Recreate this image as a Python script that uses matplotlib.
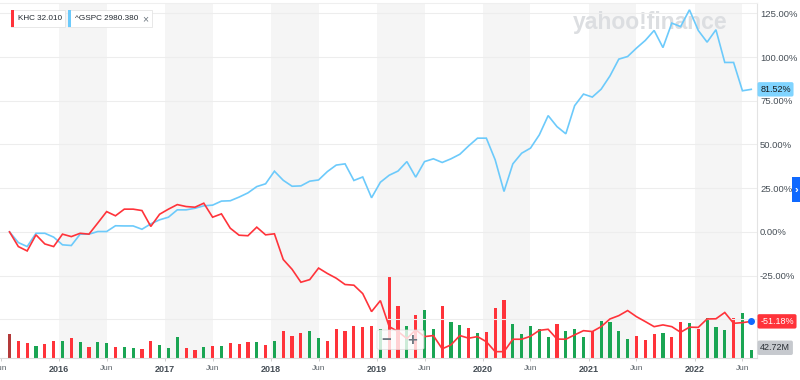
import numpy as np
import matplotlib
matplotlib.use("Agg")
import matplotlib.pyplot as plt
from matplotlib.patches import Rectangle, FancyBboxPatch
from matplotlib import transforms

plt.rcParams['font.family'] = ['Liberation Sans', 'DejaVu Sans']

# ---------------- data (monthly, Jul 2015 .. Jul 2022) ----------------
khc_pct = [0, -8.4, -10.9, -1.7, -6.9, -8.4, -1.3, -2.7, -0.8, -1.3,
           5.1, 11.6, 9.2, 13.0, 13.0, 12.2, 3.1, 10.1, 13.0, 15.6,
           14.5, 14.1, 16.4, 8.4, 10.3, 2.1, -1.9, -2.2, 2.7, -1.7,
           -1.1, -15.8, -21.4, -28.8, -27.3, -20.7, -23.8, -26.5, -30.1, -30.5,
           -35.3, -45.6, -39.3, -54.2, -57.0, -61.0, -56.0, -59.9, -59.3, -66.9,
           -64.6, -59.3, -60.8, -59.9, -62.8, -68.5, -68.5, -61.4, -61.4, -59.7,
           -56.3, -55.7, -61.3, -61.4, -58.9, -56.5, -57.0, -54.2, -49.8, -47.9,
           -45.0, -48.5, -51.3, -54.2, -53.2, -54.2, -57.4, -54.5, -54.6, -49.8,
           -49.7, -46.1, -52.3, -51.9, -51.18]

gspc_pct = [0, -6.1, -8.4, -0.8, -0.8, -3.0, -7.4, -7.8, -1.3, -1.3,
            0.2, 0.2, 3.5, 3.4, 3.4, 1.5, 4.6, 6.9, 8.4, 12.6,
            12.6, 13.5, 14.9, 15.3, 17.6, 17.8, 19.9, 22.3, 25.9, 27.5,
            34.7, 29.5, 26.1, 26.3, 29.0, 29.7, 34.5, 38.2, 38.9, 29.4,
            31.4, 19.5, 28.4, 32.4, 34.8, 40.2, 31.3, 40.2, 41.8, 39.7,
            41.8, 44.4, 49.2, 53.6, 53.6, 41.2, 23.1, 38.9, 45.0, 47.9,
            55.5, 66.5, 60.2, 56.1, 72.2, 78.8, 77.1, 81.6, 89.2, 98.8,
            100.3, 105.1, 109.5, 115.2, 105.4, 119.4, 117.4, 127.0, 115.2, 108.5,
            115.6, 96.9, 96.9, 80.7, 81.52]

volume_m = [123, 87, 81, 63, 74, 89, 87, 103, 84, 60,
            84, 77, 57, 57, 53, 50, 87, 68, 53, 109,
            51, 44, 56, 65, 63, 78, 76, 83, 83, 68,
            88, 139, 116, 130, 138, 106, 91, 152, 138, 166,
            161, 166, 151, 416, 269, 168, 223, 248, 149, 269,
            185, 171, 154, 132, 137, 257, 300, 176, 125, 166,
            149, 112, 176, 139, 153, 112, 140, 190, 189, 142,
            98, 113, 94, 123, 132, 109, 185, 181, 153, 208,
            163, 145, 209, 231, 42.72]

vol_dir = ("d d d u d d u d u d "
           "u u d u u d d u u u "
           "d d u d u d d d u d "
           "u d d d u u d d d d "
           "d d u d d u d u u d "
           "u u d u d d d u u u "
           "u u d u u u d u u u "
           "u d d d u d d u d u "
           "u u d u u").split()

year_labels = ['2016', '2017', '2018', '2019', '2020', '2021', '2022']
mid_labels = ['Jun'] * 8

khc_label = 'KHC 32.010'
gspc_label = '^GSPC 2980.380'
last_vol_label = '42.72M'

# ---------------- styling ----------------
RED = '#ff333a'
GREEN = '#1aa553'
BLUE = '#6ccafb'
W, H = 800, 380

def fx(px):
    return px / W

def fy(py):
    return 1 - py / H

fig = plt.figure(figsize=(8, 3.8), dpi=100)
fig.patch.set_facecolor('white')

rect = [0, fy(358.3), fx(757), (358.3 - 3) / H]
ax_v = fig.add_axes(rect)
ax = fig.add_axes(rect, sharex=ax_v)
ax.patch.set_alpha(0)

x = np.arange(len(khc_pct))
xlim = (-1.076, 84.65)
ax_v.set_xlim(*xlim)
ax.set_ylim(-72.3, 130.9)
px_per_unit = 5.14
ax_v.set_ylim(0, (358.3 - 3) * px_per_unit)

year_pos = [5.6 + 12 * k for k in range(len(year_labels))]
mid_pos = [-1.0 + 12 * k for k in range(len(mid_labels))]

# shaded bands (year tick -> Jun tick)
for k, yp in enumerate(year_pos):
    ax_v.axvspan(yp, mid_pos[k + 1], color='#f5f5f5', lw=0, zorder=0)

# watermark
ax_v.text(fx(650), fy(22), 'yahoo!finance', transform=fig.transFigure,
          ha='center', va='center', fontsize=16.5, fontweight='bold',
          color='#dcdee1', zorder=1)

# gridlines
for g in [-50, -25, 0, 25, 50, 75, 100, 125]:
    ax.axhline(g, color='#ededed', lw=0.8, zorder=0.5)

# volume bars
bar_colors = [RED if d == 'd' else GREEN for d in vol_dir]
bar_colors[0] = '#b33a3a'
ax_v.bar(x, volume_m, width=0.36, color=bar_colors, zorder=2)

# lines
ax.plot(x, gspc_pct, color=BLUE, lw=1.2, zorder=3, solid_joinstyle='miter')
ax.plot(x, khc_pct, color=RED, lw=1.2, zorder=4, solid_joinstyle='miter')
ax.plot([x[-1]], [khc_pct[-1]], 'o', ms=4, color='#0f69ff', zorder=5)

# axes cosmetics
for a in (ax, ax_v):
    for s in a.spines.values():
        s.set_visible(False)
ax_v.spines['bottom'].set_visible(True)
ax_v.spines['bottom'].set_color('#dcdcdc')
ax_v.spines['right'].set_visible(True)
ax_v.spines['right'].set_color('#e3e3e3')
ax_v.spines['top'].set_visible(True)
ax_v.spines['top'].set_color('#efefef')
ax_v.set_yticks([])

ax.yaxis.tick_right()
yt = [-25, 0, 25, 50, 75, 100, 125]
ax.set_yticks(yt)
ax.set_yticklabels([f'{v:.2f}%' for v in yt])
ax.tick_params(axis='y', length=0, pad=2.2, labelsize=6.8, labelcolor='#464e56')

ticks = mid_pos + year_pos
labels = mid_labels + year_labels
ax_v.set_xticks(ticks)
ax_v.set_xticklabels(labels)
ax_v.tick_params(axis='x', length=2.5, width=0.6, color='#c8c8c8', pad=2.5,
                 labelsize=6.0, labelcolor='#5b636a')
plt.setp(ax.get_xticklabels(), visible=False)
ax.tick_params(axis='x', length=0)
for lab in ax_v.get_xticklabels():
    if lab.get_text() != 'Jun':
        lab.set_fontweight('bold')
        lab.set_fontsize(6.5)
        lab.set_color('#464e56')

# right-side value tags
bt = transforms.blended_transform_factory(ax.transAxes, ax.transData)
ax.annotate(f'{gspc_pct[-1]:.2f}%', xy=(1, gspc_pct[-1]), xycoords=bt,
            xytext=(2.3, 0), textcoords='offset points', ha='left', va='center',
            fontsize=6.5, color='#1a1a1a', annotation_clip=False,
            bbox=dict(boxstyle='round,pad=0.3,rounding_size=0.2', fc='#80d4ff', ec='none'))
ax.annotate(f'{khc_pct[-1]:.2f}%', xy=(1, khc_pct[-1]), xycoords=bt,
            xytext=(2.3, 0), textcoords='offset points', ha='left', va='center',
            fontsize=6.5, color='white', annotation_clip=False,
            bbox=dict(boxstyle='round,pad=0.3,rounding_size=0.2', fc=RED, ec='none'))
btv = transforms.blended_transform_factory(ax_v.transAxes, ax_v.transData)
ax_v.annotate(last_vol_label, xy=(1, volume_m[-1]), xycoords=btv,
              xytext=(2.3, 1.6), textcoords='offset points', ha='left', va='center',
              fontsize=6.5, color='#2a2f35', annotation_clip=False,
              bbox=dict(boxstyle='round,pad=0.3,rounding_size=0.2', fc='#c6c9ce', ec='none'))

# zoom control overlay
ctrl = FancyBboxPatch((fx(377), fy(349.5)), fx(424) - fx(377), fy(330) - fy(349.5),
                      boxstyle='round,pad=0,rounding_size=0.004',
                      transform=fig.transFigure, fc='white', ec='#dddddd',
                      lw=0.6, alpha=0.78, zorder=10)
fig.add_artist(ctrl)
fig.text(fx(386), fy(340), '\u2212', ha='center', va='center', fontsize=12,
         fontweight='bold', color='#6e7780', zorder=11)
fig.text(fx(412), fy(340), '+', ha='center', va='center', fontsize=12,
         fontweight='bold', color='#6e7780', zorder=11)

# legend chips
def chip(x0, x1, color, text, close=False):
    fig.add_artist(Rectangle((fx(x0), fy(27.3)), fx(x1) - fx(x0), fy(10) - fy(27.3),
                             transform=fig.transFigure, fc='white', ec='#e4e4e4',
                             lw=0.6, zorder=10))
    fig.add_artist(Rectangle((fx(x0), fy(27.3)), fx(3), fy(10) - fy(27.3),
                             transform=fig.transFigure, fc=color, ec='none', zorder=11))
    fig.text(fx(x0 + 7), fy(18.8), text, ha='left', va='center', fontsize=5.9,
             color='#232a31', zorder=12)
    if close:
        fig.text(fx(x1 - 7), fy(18.8), '\u00d7', ha='center', va='center',
                 fontsize=7.5, color='#6e7780', zorder=12)

chip(11, 65, RED, khc_label)
chip(68, 152, BLUE, gspc_label, close=True)

# right edge blue tab
fig.add_artist(Rectangle((fx(792), fy(202)), fx(8), fy(177) - fy(202),
                         transform=fig.transFigure, fc='#0f69ff', ec='none', zorder=10))
fig.text(fx(796), fy(189.5), '\u203a', ha='center', va='center', fontsize=8,
         color='white', fontweight='bold', zorder=11)

fig.savefig('out.png', dpi=100, facecolor='white')
